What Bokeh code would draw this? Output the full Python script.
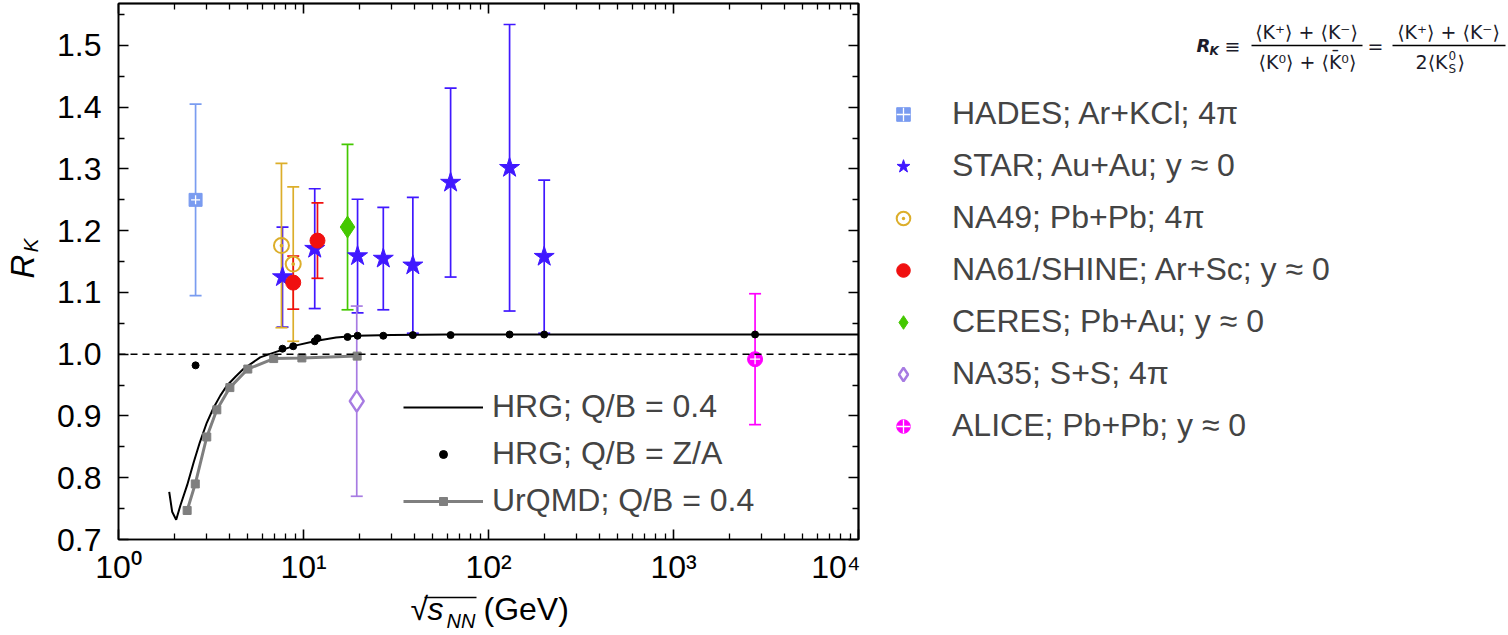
from math import pi

from bokeh.plotting import figure
from bokeh.layouts import row, column
from bokeh.models import (ColumnDataSource, Range1d, LogAxis, LinearAxis, FixedTicker,
                          PrintfTickFormatter, CustomJSTickFormatter,
                          Whisker, TeeHead, Legend, LegendItem, Label, Span, BoxAnnotation)
from bokeh.embed import file_html
from bokeh.resources import INLINE

# ---------------------------------------------------------------- data
hades_sqrt_s = [2.61]
hades_rk = [1.250]
hades_err = [0.155]

star_sqrt_s = [7.7, 11.5, 19.6, 27.0, 39.0, 62.4, 130.0, 200.0]
star_rk = [1.125, 1.171, 1.159, 1.155, 1.144, 1.278, 1.302, 1.158]
star_err = [0.081, 0.097, 0.092, 0.083, 0.110, 0.153, 0.232, 0.124]

na49_sqrt_s = [7.6, 8.8]
na49_rk = [1.176, 1.146]
na49_err = [0.133, 0.125]

na61_sqrt_s = [8.8, 11.9]
na61_rk = [1.116, 1.184]
na61_err = [0.043, 0.061]

ceres_sqrt_s = [17.3]
ceres_rk = [1.206]
ceres_err = [0.134]

na35_sqrt_s = [19.4]
na35_rk = [0.924]
na35_err = [0.154]

alice_sqrt_s = [2760.0]
alice_rk = [0.992]
alice_err = [0.106]

# HRG, Q/B = 0.4 (continuous curve)
hrg_sqrt_s = [1.88, 1.95, 2.05, 2.16, 2.35, 2.55, 2.75, 3.0, 3.26, 3.55, 3.85, 4.3, 4.73,
              5.83, 7.3, 9.0, 11.8, 15.0, 19.4, 30.0, 60.0, 200.0, 1000.0, 10000.0]
hrg_rk = [0.777, 0.745, 0.732, 0.755, 0.788, 0.825, 0.857, 0.889, 0.913, 0.933, 0.949, 0.964,
          0.976, 0.995, 1.005, 1.014, 1.022, 1.027, 1.030, 1.031, 1.032, 1.032, 1.032, 1.032]

# HRG, Q/B = Z/A (at the measured energies)
hrgza_sqrt_s = [2.61, 7.7, 8.8, 11.5, 11.9, 17.3, 19.6, 27.0, 39.0, 62.4, 130.0, 200.0, 2760.0]
hrgza_rk = [0.982, 1.009, 1.013, 1.021, 1.026, 1.028, 1.030, 1.030, 1.031, 1.031, 1.032, 1.032, 1.032]

# UrQMD, Q/B = 0.4
urqmd_sqrt_s = [2.35, 2.6, 3.0, 3.4, 4.0, 5.0, 6.9, 9.8, 19.5]
urqmd_rk = [0.747, 0.790, 0.866, 0.910, 0.946, 0.976, 0.993, 0.994, 0.997]

unity = 1.0

x_major = [1, 10, 100, 1000, 10000]
x_minor = [m * 10 ** k for k in range(4) for m in range(2, 10)]
y_major = [round(0.7 + 0.1 * i, 2) for i in range(9)]
y_minor = [round(0.75 + 0.1 * i, 2) for i in range(9)]

# ---------------------------------------------------------------- style
FONT = "Liberation Sans"
SIZE = 32
C_HADES = "#7a9cf0"
C_STAR = "#4018ff"
C_NA49 = "#dcae2a"
C_NA61 = "#f01010"
C_CERES = "#44c800"
C_NA35 = "#a77be2"
C_ALICE = "#ff00ff"
C_URQMD = "#7f7f7f"

# page pieces: [y title | plot | legend + definition] above a full-width x title strip
PAGE_W, PAGE_H = 1508, 635
FRAME_LEFT = 118                            # page x of the plot frame's left edge
YLAB_W = 46
MAIN_W = 860 - YLAB_W
TOP_H = 587
BORDER_TOP, BORDER_BOTTOM = 3, 46          # shared by every canvas of the top row
FRAME_BOTTOM = TOP_H - BORDER_BOTTOM       # page y of the frames' lower edge
SIDE_X = YLAB_W + MAIN_W
SIDE_W = PAGE_W - SIDE_X
XLAB_H = PAGE_H - TOP_H


def blank(w, h, top=0, bottom=0):
    # helper canvas without axes; its data range lies away from all data values
    f = figure(width=w, height=h, title=None,
               x_range=Range1d(-1000 - w, -1000), y_range=Range1d(0, 1),
               output_backend="svg", toolbar_location=None,
               x_axis_location=None, y_axis_location=None,
               min_border_left=0, min_border_right=0,
               min_border_top=top, min_border_bottom=bottom)
    f.xgrid.visible = False
    f.ygrid.visible = False
    f.outline_line_color = None
    return f


def text_at(fig, fx, fb, text, cx, cy, size, font=FONT, style="normal", align="left",
            baseline="alphabetic", angle=0.0, color="black"):
    # (cx, cy): page pixels from the top-left; fx, fb: page x of the frame's left edge
    # and page y of its lower edge.  Alphabetic positions are turned into box middles.
    y = fb - cy
    if baseline == "alphabetic":
        y += 0.346 * size
        baseline = "middle"
    fig.add_layout(Label(x=cx - fx, y=y, x_units="screen", y_units="screen",
                         text=text, text_font=font, text_font_size=f"{size}px",
                         text_font_style=style, text_align=align, text_baseline=baseline,
                         angle=angle, text_color=color))


def bar_at(fig, fx, fb, x0, x1, cy, thick=1.4, color="black"):
    yb = fb - cy
    fig.add_layout(BoxAnnotation(left=x0 - fx, right=x1 - fx,
                                 bottom=yb - thick / 2, top=yb + thick / 2,
                                 left_units="screen", right_units="screen",
                                 bottom_units="screen", top_units="screen",
                                 fill_color=color, fill_alpha=1, line_color=None))


# ---------------------------------------------------------------- main plot
p = figure(width=MAIN_W, height=TOP_H, x_axis_type="log", title=None,
           x_range=Range1d(1, 1e4), y_range=Range1d(0.7, 1.568),
           output_backend="svg", toolbar_location=None,
           min_border_left=FRAME_LEFT - YLAB_W, min_border_right=2,
           min_border_top=BORDER_TOP, min_border_bottom=BORDER_BOTTOM)
p.xgrid.visible = False
p.ygrid.visible = False
p.outline_line_color = "black"
p.outline_line_width = 1.5

x_fmt = CustomJSTickFormatter(code="""
const sup = ['\u2070', '\u00b9', '\u00b2', '\u00b3', '\u2074', '\u2075'];
const e = Math.round(Math.log10(tick));
return '10' + sup[e];
""")


def style_axis(ax, standoff=0):
    ax.axis_line_color = "black"
    ax.axis_line_width = 1.6
    ax.major_tick_in = 10
    ax.major_tick_out = 0
    ax.minor_tick_in = 6
    ax.minor_tick_out = 0
    ax.major_tick_line_color = "black"
    ax.minor_tick_line_color = "black"
    ax.major_tick_line_width = 1.6
    ax.minor_tick_line_width = 1.3
    ax.major_label_text_font = FONT
    ax.major_label_text_font_size = f"{SIZE}px"
    ax.major_label_text_color = "black"
    ax.major_label_standoff = standoff
    ax.axis_label_standoff = 0


xb = p.xaxis[0]
xb.ticker = FixedTicker(ticks=x_major, minor_ticks=x_minor)
xb.formatter = x_fmt
style_axis(xb, standoff=9)

yl = p.yaxis[0]
yl.ticker = FixedTicker(ticks=y_major, minor_ticks=y_minor)
yl.formatter = PrintfTickFormatter(format="%.1f")
style_axis(yl, standoff=17)

# unlabeled tick rows on the top and right edges (long ticks, then short ticks)
for ticks, length in ((x_major, 10), (x_minor, 6)):
    ax = LogAxis(ticker=FixedTicker(ticks=[], minor_ticks=ticks))
    style_axis(ax)
    ax.minor_tick_in = length
    ax.minor_tick_line_width = 1.6 if length == 10 else 1.3
    p.add_layout(ax, "above")
for ticks, length in ((y_major, 10), (y_minor, 6)):
    ax = LinearAxis(ticker=FixedTicker(ticks=[], minor_ticks=ticks))
    style_axis(ax)
    ax.minor_tick_in = length
    ax.minor_tick_line_width = 1.6 if length == 10 else 1.3
    p.add_layout(ax, "right")

# reference line at R_K = 1
p.add_layout(Span(location=unity, dimension="width", line_color="black",
                  line_width=1.6, line_dash="7 5"))

# models
hrg_line = p.line(hrg_sqrt_s, hrg_rk, line_color="black", line_width=2)
urqmd_line = p.line(urqmd_sqrt_s, urqmd_rk, line_color=C_URQMD, line_width=3)
urqmd_pts = p.scatter(urqmd_sqrt_s, urqmd_rk, marker="square", size=8,
                      fill_color=C_URQMD, line_color=C_URQMD)
hrgza_pts = p.scatter(hrgza_sqrt_s, hrgza_rk, marker="circle", size=7,
                      fill_color="black", line_color="black")


# measurements with error bars
def with_errors(xs, ys, errs, color):
    src = ColumnDataSource(dict(x=xs, y=ys,
                                lo=[y - e for y, e in zip(ys, errs)],
                                hi=[y + e for y, e in zip(ys, errs)]))
    p.add_layout(Whisker(source=src, base="x", lower="lo", upper="hi", dimension="height",
                         line_color=color, line_width=1.7,
                         lower_head=TeeHead(size=12, line_color=color, line_width=1.7),
                         upper_head=TeeHead(size=12, line_color=color, line_width=1.7)))
    return src


# marker styles shared by the plot and the side legend
STYLES = {
    "hades": [dict(marker="square", size=13, fill_color=C_HADES, line_color=C_HADES),
              dict(marker="cross", size=9, line_color="white", line_width=1.3)],
    "star": [dict(marker="star", size=21, fill_color=C_STAR, line_color=C_STAR)],
    "na49": [dict(marker="circle_dot", size=15, fill_color=None, line_color=C_NA49, line_width=2)],
    "na61": [dict(marker="circle", size=15, fill_color=C_NA61, line_color=C_NA61)],
    "ceres": [dict(marker="diamond", size=22, fill_color=C_CERES, line_color=C_CERES)],
    "na35": [dict(marker="diamond", size=21, fill_color="white", line_color=C_NA35, line_width=2.5)],
    "alice": [dict(marker="circle", size=15, fill_color=C_ALICE, line_color=C_ALICE),
              dict(marker="cross", size=10, line_color="white", line_width=1.3)],
}

datasets = [
    ("hades", hades_sqrt_s, hades_rk, hades_err, C_HADES, "HADES; Ar+KCl; 4\u03c0"),
    ("star", star_sqrt_s, star_rk, star_err, C_STAR, "STAR; Au+Au; y \u2248 0"),
    ("na49", na49_sqrt_s, na49_rk, na49_err, C_NA49, "NA49; Pb+Pb; 4\u03c0"),
    ("na61", na61_sqrt_s, na61_rk, na61_err, C_NA61, "NA61/SHINE; Ar+Sc; y \u2248 0"),
    ("ceres", ceres_sqrt_s, ceres_rk, ceres_err, C_CERES, "CERES; Pb+Au; y \u2248 0"),
    ("na35", na35_sqrt_s, na35_rk, na35_err, C_NA35, "NA35; S+S; 4\u03c0"),
    ("alice", alice_sqrt_s, alice_rk, alice_err, C_ALICE, "ALICE; Pb+Pb; y \u2248 0"),
]

sources = {}
for key, xs, ys, errs, color, _ in datasets:
    src = with_errors(xs, ys, errs, color)
    sources[key] = src
    for st in STYLES[key]:
        p.scatter("x", "y", source=src, **st)

model_legend = Legend(items=[
    LegendItem(label="HRG; Q/B = 0.4", renderers=[hrg_line]),
    LegendItem(label="HRG; Q/B = Z/A", renderers=[hrgza_pts]),
    LegendItem(label="UrQMD; Q/B = 0.4", renderers=[urqmd_line, urqmd_pts]),
], location=(403 - FRAME_LEFT, 20), glyph_width=80, glyph_height=20, label_height=37,
   spacing=10, label_standoff=9, padding=0, margin=0,
   label_text_font=FONT, label_text_font_size=f"{SIZE}px",
   border_line_color=None, background_fill_alpha=0)
p.add_layout(model_legend)

# ---------------------------------------------------------------- y title strip
ylab = blank(YLAB_W, TOP_H, BORDER_TOP, BORDER_BOTTOM)
text_at(ylab, 0, FRAME_BOTTOM, "R", 22, 268, 33, style="italic", align="center",
        baseline="middle", angle=pi / 2)
text_at(ylab, 0, FRAME_BOTTOM, "K", 30, 247, 21, style="italic", align="center",
        baseline="middle", angle=pi / 2)

# ---------------------------------------------------------------- legend + definition
side = blank(SIDE_W, TOP_H, BORDER_TOP, BORDER_BOTTOM)
items = []
for key, _, _, _, _, label in datasets:
    # same sources as the plot; this canvas' x range keeps the points themselves off-view
    rs = [side.scatter("x", "y", source=sources[key], **st) for st in STYLES[key]]
    items.append(LegendItem(label=label, renderers=rs))
side.add_layout(Legend(items=items, location=(885 - SIDE_X, FRAME_BOTTOM - 446),
                       glyph_width=36, glyph_height=34, label_height=37,
                       spacing=15, label_standoff=31, padding=0, margin=0,
                       label_text_font=FONT, label_text_font_size=f"{SIZE}px",
                       border_line_color=None, background_fill_alpha=0))

FF = "DejaVu Sans"
FC = "#1b1b2a"
SO = (SIDE_X, FRAME_BOTTOM)
text_at(side, *SO, "R", 1196, 53, 18, font=FF, style="bold italic", color=FC)
text_at(side, *SO, "K", 1209, 57, 12, font=FF, style="bold italic", color=FC)
text_at(side, *SO, "\u2261", 1224, 54, 19, font=FF, color=FC)
text_at(side, *SO, "\u27e8K\u207a\u27e9 + \u27e8K\u207b\u27e9", 1306, 40, 19, font=FF,
        align="center", color=FC)
bar_at(side, *SO, 1251, 1362, 47)
text_at(side, *SO, "\u27e8K\u2070\u27e9 + \u27e8K\u0304\u2070\u27e9", 1307, 70, 19, font=FF,
        align="center", color=FC)
text_at(side, *SO, "=", 1367, 54, 19, font=FF, color=FC)
text_at(side, *SO, "\u27e8K\u207a\u27e9 + \u27e8K\u207b\u27e9", 1448, 40, 19, font=FF,
        align="center", color=FC)
bar_at(side, *SO, 1392, 1505, 47)
text_at(side, *SO, "2\u27e8K", 1447, 70, 19, font=FF, align="right", color=FC)
text_at(side, *SO, "0", 1448, 61, 12, font=FF, color=FC)
text_at(side, *SO, "S", 1448, 75, 12, font=FF, color=FC)
text_at(side, *SO, "\u27e9", 1457, 70, 19, font=FF, color=FC)

# ---------------------------------------------------------------- x title strip
xlab = blank(PAGE_W, XLAB_H)
XO = (0, PAGE_H)
text_at(xlab, *XO, "\u221a", 410, 620, SIZE)
bar_at(xlab, *XO, 424, 476, 597, thick=1.4)
text_at(xlab, *XO, "s", 427, 620, SIZE, style="italic")
text_at(xlab, *XO, "NN", 446, 627, 20, style="italic")
text_at(xlab, *XO, "(GeV)", 483, 620, SIZE)

top = row(ylab, p, side, spacing=0)
page = column(top, xlab, spacing=0)
open("out.html", "w").write(file_html(page, INLINE))
